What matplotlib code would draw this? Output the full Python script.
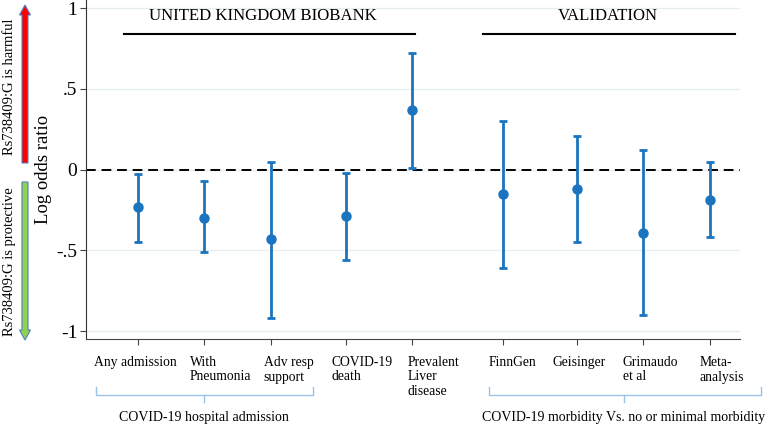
import matplotlib.pyplot as plt
import matplotlib.transforms as mtransforms
from matplotlib.patches import FancyArrow

plt.rcParams['font.family'] = ['Liberation Serif', 'DejaVu Serif']

# data
labels = ['Any admission', 'With\nPneumonia', 'Adv resp\nsupport', 'COVID-19\ndeath',
          'Prevalent\nLiver\ndisease', 'FinnGen', 'Geisinger', 'Grimaudo\net al', 'Meta-\nanalysis']
xpos = [0, 1, 2, 3.13, 4.12, 5.49, 6.6, 7.6, 8.6]
label_shift = [-0.65, -0.22, -0.105, -0.21, -0.06, -0.21, -0.36, -0.31, -0.16]  # left edge of each label rel. to tick
estimate = [-0.23, -0.30, -0.43, -0.29, 0.37, -0.15, -0.12, -0.39, -0.19]
ci_low = [-0.45, -0.51, -0.92, -0.56, 0.01, -0.61, -0.45, -0.90, -0.42]
ci_high = [-0.03, -0.07, 0.05, -0.02, 0.72, 0.30, 0.21, 0.12, 0.05]
yticks = [-1, -0.5, 0, 0.5, 1]
yticklabels = ['-1', '-.5', '0', '.5', '1']

blue = '#1b74bf'

fig = plt.figure(figsize=(7.73, 4.25), dpi=100)
ax = fig.add_axes([0.111, 0.202, 0.846, 0.798])

err_lo = [e - l for e, l in zip(estimate, ci_low)]
err_hi = [h - e for e, h in zip(estimate, ci_high)]
ax.errorbar(xpos, estimate, yerr=[err_lo, err_hi], fmt='o', color=blue, ecolor=blue,
            elinewidth=2.0, capsize=2.8, capthick=2.0, markersize=6.5, zorder=3)

ax.axhline(0, color='black', linestyle=(0, (5, 3)), linewidth=1.4, zorder=2)

ax.set_xlim(-0.78, 9.05)
ax.set_ylim(-1.05, 1.05)
ax.set_yticks(yticks)
ax.set_yticklabels(yticklabels, fontsize=14)
ax.set_xticks(xpos)
ax.set_xticklabels([])
ax.tick_params(axis='x', length=4, color='#444444')
ax.tick_params(axis='y', length=4, pad=2, color='#444444')
ax.grid(axis='y', color='#e6eef1', linewidth=0.9)
ax.set_axisbelow(True)
for s in ['top', 'right']:
    ax.spines[s].set_visible(False)
ax.spines['left'].set_color('#333333')
ax.spines['bottom'].set_color('#444444')
ax.set_ylabel('Log odds ratio', fontsize=13.5)
ax.yaxis.set_label_coords(-0.052, 0.5)

trans = mtransforms.blended_transform_factory(ax.transData, fig.transFigure)

# category labels under ticks
for x, dx, lab in zip(xpos, label_shift, labels):
    ax.text(x + dx, 1 - 356/425, lab, ha='left', va='top', fontsize=9.8,
            linespacing=1.15, transform=trans, clip_on=False)

# headers
ax.plot([-0.2, 4.17], [0.84, 0.84], color='black', linewidth=1.5)
ax.plot([5.19, 8.98], [0.84, 0.84], color='black', linewidth=1.5)
ax.text(1.88, 0.95, 'UNITED KINGDOM BIOBANK', ha='center', va='center', fontsize=12.1)
ax.text(7.07, 0.95, 'VALIDATION', ha='center', va='center', fontsize=12.1)

# braces under the groups
brace_col = '#9cc3e6'
def brace(x0, x1, xm, text):
    y_top, y_mid, y_tip = 1 - 387/425, 1 - 395/425, 1 - 402/425
    ax.plot([x0, x0, x1, x1], [y_top, y_mid, y_mid, y_top], color=brace_col, lw=1.0,
            transform=trans, clip_on=False)
    ax.plot([xm, xm], [y_mid, y_tip], color=brace_col, lw=1.0, transform=trans, clip_on=False)
    ax.text(xm, 1 - 417/425, text, ha='center', va='center', fontsize=10,
            transform=trans, clip_on=False)

brace(-0.62, 2.63, 1.0, 'COVID-19 hospital admission')
brace(5.28, 9.37, 7.31, 'COVID-19 morbidity Vs. no or minimal morbidity')

# direction arrows on the left
fig.add_artist(FancyArrow(25/773, 1 - 163/425, 0, -(5 - 163)/425, width=6/773,
                          head_width=11/773, head_length=10/425, length_includes_head=True,
                          facecolor='#ff0000', edgecolor='#4f81bd', linewidth=0.8,
                          transform=fig.transFigure))
fig.add_artist(FancyArrow(25/773, 1 - 182/425, 0, -(340 - 182)/425, width=6/773,
                          head_width=11/773, head_length=10/425, length_includes_head=True,
                          facecolor='#92d050', edgecolor='#4f81bd', linewidth=0.8,
                          transform=fig.transFigure))
fig.text(10/773, 1 - 87/425, 'Rs738409:G is harmful', rotation=90, ha='center',
         va='center', fontsize=10.5)
fig.text(10/773, 1 - 262/425, 'Rs738409:G is protective', rotation=90, ha='center',
         va='center', fontsize=10.5)

fig.savefig('out.png', dpi=100)
